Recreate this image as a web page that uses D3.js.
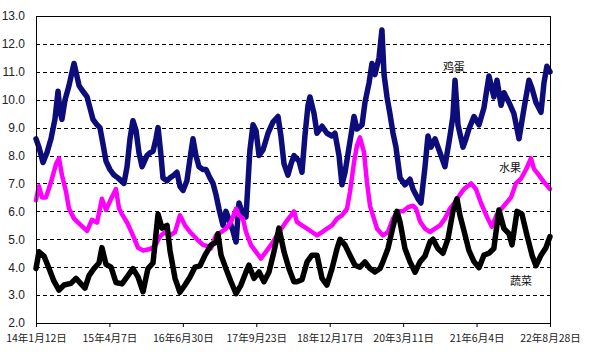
<!DOCTYPE html>
<html><head><meta charset="utf-8">
<script src="https://cdn.jsdelivr.net/npm/d3@7"></script>
<style>
html,body{margin:0;padding:0;background:#fff;}
svg{display:block;}
</style></head>
<body>
<svg id="chart" width="600" height="361"></svg>
<script>
// ---- data ----
const startDate = "2014-01-12";
const endDate = "2022-08-28";
const tickDates = ["2014-01-12","2015-04-07","2016-06-30","2017-09-23","2018-12-17","2020-03-11","2021-06-04","2022-08-28"];
const tickLabels = ["14年1月12日","15年4月7日","16年6月30日","17年9月23日","18年12月17日","20年3月11日","21年6月4日","22年8月28日"];
const yTicks = [2,3,4,5,6,7,8,9,10,11,12,13];
const seriesNames = ["鸡蛋","水果","蔬菜"];

// [days since startDate, price]
const eggData = [[0,8.6],[18,8.3],[43,7.75],[67,8.1],[92,8.6],[116,9.3],[135,10.3],[147,9.6],[159,9.3],[178,10.0],[202,10.5],[221,11.0],[233,11.3],[245,11.0],[264,10.5],[288,10.3],[313,10.1],[331,9.7],[349,9.3],[374,9.1],[392,9.0],[411,8.4],[429,7.8],[453,7.5],[478,7.3],[502,7.2],[521,7.1],[539,7.0],[558,7.6],[576,8.6],[594,9.25],[613,8.9],[631,8.1],[650,7.6],[680,8.0],[699,8.1],[717,8.15],[735,8.6],[748,9.0],[766,8.0],[778,7.2],[803,7.1],[821,7.2],[846,7.3],[864,7.4],[882,6.9],[901,6.75],[925,7.1],[944,7.9],[962,8.6],[980,8.0],[999,7.6],[1023,7.5],[1042,7.5],[1066,7.2],[1085,7.0],[1103,6.6],[1121,6.1],[1146,5.5],[1164,6.0],[1183,5.7],[1207,5.3],[1226,4.9],[1244,6.3],[1268,5.9],[1287,5.8],[1299,7.0],[1311,8.2],[1330,9.1],[1348,8.9],[1367,8.0],[1391,8.2],[1422,8.8],[1452,9.2],[1483,9.4],[1501,8.7],[1520,7.7],[1544,7.3],[1563,7.7],[1581,8.0],[1612,7.8],[1630,7.4],[1648,8.7],[1667,9.8],[1679,10.1],[1704,9.5],[1722,8.8],[1753,9.05],[1783,8.8],[1814,8.7],[1832,8.8],[1857,8.0],[1875,6.95],[1894,7.4],[1924,8.5],[1949,9.4],[1967,8.95],[1998,9.1],[2016,9.9],[2041,10.6],[2059,11.3],[2077,10.9],[2102,11.5],[2120,12.5],[2133,10.9],[2151,10.1],[2169,9.5],[2188,8.8],[2206,8.3],[2231,7.2],[2261,6.95],[2292,7.15],[2310,6.8],[2341,6.45],[2359,6.3],[2384,7.6],[2402,8.7],[2421,8.3],[2445,8.6],[2476,8.1],[2506,7.6],[2537,8.7],[2555,9.4],[2568,10.7],[2586,9.1],[2617,8.3],[2635,8.6],[2653,8.95],[2684,9.4],[2715,9.1],[2745,9.7],[2776,10.85],[2806,10.1],[2825,10.7],[2850,9.8],[2868,10.25],[2899,9.9],[2929,9.5],[2960,8.6],[2991,9.7],[3021,10.7],[3040,10.4],[3064,9.9],[3095,9.55],[3113,10.6],[3131,11.2],[3150,11.0]];

const fruitData = [[0,6.4],[18,6.9],[37,6.5],[61,6.5],[92,7.05],[123,7.7],[141,7.9],[159,7.3],[184,6.7],[202,6.1],[233,5.74],[276,5.5],[313,5.3],[343,5.7],[374,5.6],[404,6.45],[429,6.05],[460,6.45],[490,6.8],[509,6.1],[527,5.9],[558,5.6],[594,5.14],[625,4.7],[656,4.6],[699,4.65],[729,4.75],[760,5.1],[791,5.26],[821,5.14],[852,5.26],[882,5.86],[913,5.5],[944,5.26],[987,5.0],[1023,4.8],[1054,4.75],[1072,4.67],[1103,5.14],[1134,5.26],[1164,5.38],[1195,5.62],[1226,6.1],[1244,5.86],[1268,5.74],[1287,5.26],[1318,4.79],[1348,4.55],[1379,4.31],[1409,4.55],[1452,4.9],[1489,5.26],[1532,5.62],[1563,5.86],[1581,6.0],[1599,5.62],[1630,5.5],[1661,5.38],[1691,5.26],[1722,5.14],[1753,5.26],[1783,5.38],[1814,5.5],[1845,5.74],[1875,5.86],[1906,6.1],[1924,6.69],[1949,7.76],[1967,8.36],[1985,8.65],[2010,8.12],[2028,7.05],[2047,6.2],[2071,5.74],[2090,5.38],[2126,5.14],[2157,5.26],[2188,5.74],[2218,6.0],[2249,6.0],[2280,6.15],[2310,6.2],[2329,6.1],[2353,5.65],[2384,5.38],[2414,5.26],[2445,5.38],[2476,5.5],[2506,5.74],[2537,6.1],[2568,6.33],[2598,6.6],[2623,6.8],[2666,7.0],[2696,6.8],[2727,6.3],[2764,5.8],[2794,5.45],[2825,5.9],[2868,6.2],[2911,6.5],[2941,7.0],[2972,7.17],[3003,7.5],[3033,7.9],[3052,7.52],[3082,7.3],[3113,7.05],[3150,6.8]];

const vegData = [[0,3.95],[18,4.55],[49,4.4],[80,3.95],[110,3.5],[141,3.18],[172,3.36],[214,3.42],[245,3.6],[276,3.4],[300,3.25],[325,3.7],[355,3.95],[386,4.15],[404,4.7],[429,4.1],[460,4.0],[490,3.45],[527,3.4],[558,3.65],[594,3.95],[625,3.65],[656,3.12],[686,3.95],[717,4.15],[748,5.9],[772,5.4],[803,5.5],[821,4.6],[852,3.6],[882,3.1],[913,3.36],[944,3.65],[974,4.0],[1005,4.05],[1036,4.43],[1072,4.79],[1103,4.9],[1115,5.2],[1134,4.43],[1164,3.95],[1195,3.48],[1226,3.05],[1256,3.36],[1287,3.83],[1305,4.07],[1336,3.6],[1367,3.83],[1397,3.48],[1428,3.83],[1458,4.55],[1489,5.4],[1520,4.55],[1550,3.95],[1581,3.48],[1599,3.48],[1630,3.55],[1661,4.19],[1691,4.43],[1722,4.43],[1753,3.6],[1783,3.36],[1814,3.95],[1845,4.67],[1863,5.0],[1894,4.79],[1924,4.43],[1955,4.07],[1985,4.0],[2016,4.19],[2047,3.95],[2077,3.83],[2108,3.95],[2126,4.19],[2157,4.67],[2188,5.45],[2212,6.0],[2231,5.62],[2261,4.67],[2292,4.19],[2323,3.82],[2353,4.19],[2384,4.4],[2414,4.9],[2433,5.0],[2463,4.67],[2494,4.5],[2525,5.02],[2555,6.0],[2580,6.45],[2598,5.86],[2623,5.3],[2653,4.6],[2684,4.2],[2715,3.98],[2745,4.43],[2776,4.5],[2806,4.67],[2837,6.05],[2868,5.38],[2899,5.2],[2917,4.8],[2948,6.0],[2978,5.9],[3009,5.14],[3040,4.43],[3064,4.05],[3095,4.43],[3125,4.7],[3150,5.1]];

// ---- chart ----
const parse = d3.timeParse("%Y-%m-%d");
const t0 = parse(startDate), t1 = parse(endDate);
const svg = d3.select("#chart");
const L = 36, R = 550, T = 16, B = 323;

const x = d3.scaleTime().domain([t0, t1]).range([L, R]);
const y = d3.scaleLinear().domain([2, 13]).range([B, T]);

// grid
svg.append("g").selectAll("line").data(yTicks.filter(v => v > 2 && v < 13)).join("line")
  .attr("x1", L).attr("x2", R)
  .attr("y1", d => Math.round(y(d)) + 0.5).attr("y2", d => Math.round(y(d)) + 0.5)
  .attr("stroke", "#000").attr("stroke-width", 1).attr("stroke-dasharray", "4,3");

// y axis labels
const yAxis = svg.append("g").attr("transform", `translate(${L},0)`)
  .call(d3.axisLeft(y).tickValues(yTicks).tickFormat(d3.format(".1f")).tickSize(0).tickPadding(11));
yAxis.select(".domain").remove();
yAxis.selectAll("text").attr("font-family", "'Liberation Sans Narrow','Liberation Sans',Arial,sans-serif")
  .attr("font-size", 12).attr("fill", "#222");

// x axis
const xAxis = svg.append("g").attr("transform", `translate(0,${B})`)
  .call(d3.axisBottom(x).tickValues(tickDates.map(parse)).tickFormat((d, i) => tickLabels[i]).tickSize(4).tickPadding(8));
xAxis.select(".domain").remove();
xAxis.selectAll("line").attr("stroke", "#000");
xAxis.selectAll("text").attr("font-family", "'Noto Sans CJK SC','Liberation Sans Narrow',sans-serif")
  .attr("font-size", 10.5).attr("fill", "#222");

// series
const line = d3.line()
  .x(d => x(d3.timeDay.offset(t0, d[0])))
  .y(d => y(d[1]))
  .curve(d3.curveLinear);
const series = [
  {data: eggData, color: "#0c0c7a", w: 5.5},
  {data: fruitData, color: "#ff00ff", w: 4.5},
  {data: vegData, color: "#000000", w: 5.5}
];
svg.append("g").selectAll("path").data(series).join("path")
  .attr("d", s => line(s.data))
  .attr("fill", "none")
  .attr("stroke", s => s.color)
  .attr("stroke-width", s => s.w)
  .attr("stroke-linejoin", "round").attr("stroke-linecap", "round");

// frame
svg.append("rect").attr("x", L + 0.5).attr("y", T + 0.5).attr("width", R - L).attr("height", B - T)
  .attr("fill", "none").attr("stroke", "#000").attr("stroke-width", 1);

// series labels
const labelPos = [
  {d: 2561, v: 11.2},
  {d: 2905, v: 7.6},
  {d: 2972, v: 3.55}
];
svg.append("g").selectAll("text").data(seriesNames).join("text")
  .attr("x", (d, i) => x(d3.timeDay.offset(t0, labelPos[i].d)))
  .attr("y", (d, i) => y(labelPos[i].v))
  .attr("text-anchor", "middle").attr("dominant-baseline", "central")
  .attr("font-family", "'Noto Sans CJK SC',sans-serif").attr("font-size", 11)
  .attr("fill", "#111")
  .text(d => d);
</script>
</body></html>
